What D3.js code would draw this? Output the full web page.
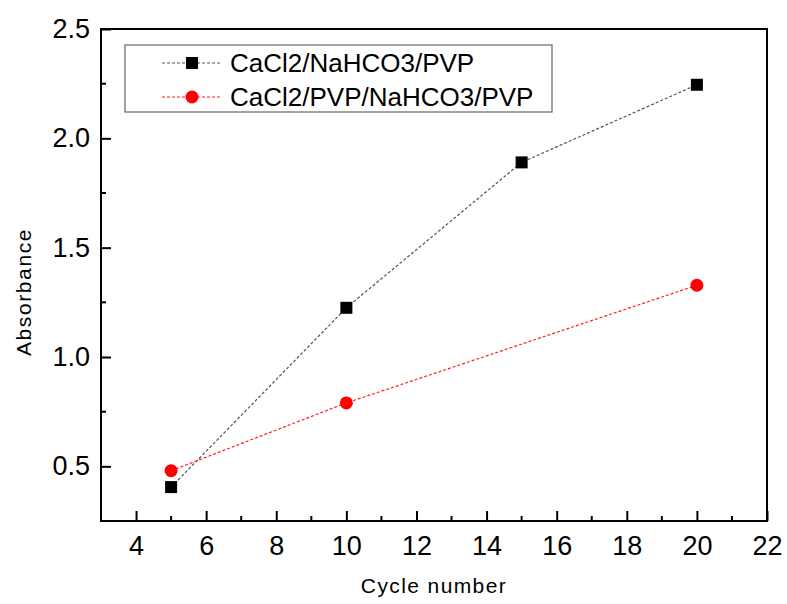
<!DOCTYPE html>
<html>
<head>
<meta charset="utf-8">
<script src="https://cdn.jsdelivr.net/npm/d3@7"></script>
<style>
  body { margin: 0; background: #fff; }
  text { font-family: "Liberation Sans", Arial, sans-serif; fill: #000; }
</style>
</head>
<body>
<div id="chart"></div>
<script>
// data
let cycles1     = [5, 10, 15, 20];
let absorb1     = [0.405, 1.225, 1.89, 2.245];
let cycles2     = [5, 10, 20];
let absorb2     = [0.48, 0.79, 1.328];
let seriesNames = ['CaCl2/NaHCO3/PVP', 'CaCl2/PVP/NaHCO3/PVP'];
let xTicks      = [4, 6, 8, 10, 12, 14, 16, 18, 20, 22];
let yTicks      = [0.5, 1.0, 1.5, 2.0, 2.5];

let canvasWidth  = 787;
let canvasHeight = 604;
let margin = { top: 29, right: 20, bottom: 83, left: 101 };
let width  = canvasWidth - margin.left - margin.right;
let height = canvasHeight - margin.top - margin.bottom;

let x = d3.scaleLinear().domain([3, 22]).range([0, width]);
let y = d3.scaleLinear().domain([0.25, 2.5]).range([height, 0]);

let svg = d3.select('#chart').append('svg')
	.attr('width', canvasWidth)
	.attr('height', canvasHeight)
	.append('g')
		.attr('transform', 'translate(' + margin.left + ',' + margin.top + ')');

// frame
svg.append('rect')
	.attr('width', width).attr('height', height)
	.attr('fill', 'none').attr('stroke', '#000').attr('stroke-width', 2);

// x axis, ticks pointing inward
let xAxis = svg.append('g')
	.attr('transform', 'translate(0,' + height + ')')
	.call(d3.axisBottom(x).tickValues(xTicks).tickSizeInner(-10).tickSizeOuter(0).tickPadding(15));
xAxis.selectAll('.tick text').style('font-size', '27px');
xAxis.select('.domain').remove();
xAxis.selectAll('line').attr('stroke-width', 2);

let xMinor = d3.range(5, 22, 2);
svg.append('g').selectAll('line').data(xMinor).enter().append('line')
	.attr('x1', (d) => x(d)).attr('x2', (d) => x(d))
	.attr('y1', height).attr('y2', height - 5)
	.attr('stroke', '#000').attr('stroke-width', 2);

// y axis
let yAxis = svg.append('g')
	.call(d3.axisLeft(y).tickValues(yTicks).tickFormat(d3.format('.1f')).tickSizeInner(-10).tickSizeOuter(0).tickPadding(11));
yAxis.selectAll('.tick text').style('font-size', '27px');
yAxis.select('.domain').remove();
yAxis.selectAll('line').attr('stroke-width', 2);

let yMinor = [0.75, 1.25, 1.75, 2.25];
svg.append('g').selectAll('line').data(yMinor).enter().append('line')
	.attr('x1', 0).attr('x2', 5)
	.attr('y1', (d) => y(d)).attr('y2', (d) => y(d))
	.attr('stroke', '#000').attr('stroke-width', 2);

// axis titles
svg.append('text')
	.attr('x', width / 2).attr('y', height + 72)
	.attr('text-anchor', 'middle').style('font-size', '21px').style('letter-spacing', '1.4px')
	.text('Cycle number');
svg.append('text')
	.attr('transform', 'translate(' + (-70) + ',' + (height / 2 + 17) + ') rotate(-90)')
	.attr('text-anchor', 'middle').style('font-size', '21px').style('letter-spacing', '1.6px')
	.text('Absorbance');

let line = d3.line().x((d) => x(d[0])).y((d) => y(d[1]));
let pts1 = cycles1.map((c, i) => [c, absorb1[i]]);
let pts2 = cycles2.map((c, i) => [c, absorb2[i]]);

svg.append('path').datum(pts1).attr('d', line)
	.attr('fill', 'none').attr('stroke', '#555').attr('stroke-width', 1.2).attr('stroke-dasharray', '3,2');
svg.append('path').datum(pts2).attr('d', line)
	.attr('fill', 'none').attr('stroke', '#ff2020').attr('stroke-width', 1.2).attr('stroke-dasharray', '3,2');

svg.selectAll('.sq').data(pts1).enter().append('rect')
	.attr('class', 'sq')
	.attr('x', (d) => x(d[0]) - 6).attr('y', (d) => y(d[1]) - 6)
	.attr('width', 12).attr('height', 12).attr('fill', '#000');
svg.selectAll('.dot').data(pts2).enter().append('circle')
	.attr('class', 'dot')
	.attr('cx', (d) => x(d[0])).attr('cy', (d) => y(d[1]))
	.attr('r', 6.5).attr('fill', '#ff0000');

// legend
let legend = svg.append('g').attr('transform', 'translate(24,16)');
legend.append('rect')
	.attr('width', 427).attr('height', 67)
	.attr('fill', '#fff').attr('stroke', '#666').attr('stroke-width', 1.2);
let rowY = [18, 52];
let colors = ['#555', '#ff2020'];
seriesNames.forEach((name, i) => {
	let g = legend.append('g').attr('transform', 'translate(0,' + rowY[i] + ')');
	g.append('line').attr('x1', 37).attr('x2', 95)
		.attr('stroke', colors[i]).attr('stroke-width', 1.2).attr('stroke-dasharray', '3,2');
	if (i === 0) {
		g.append('rect').attr('x', 61).attr('y', -6).attr('width', 12).attr('height', 12).attr('fill', '#000');
	} else {
		g.append('circle').attr('cx', 67).attr('cy', 0).attr('r', 6.5).attr('fill', '#ff0000');
	}
	g.append('text').attr('x', 105).attr('y', 9).style('font-size', '26px').text(name);
});
</script>
</body>
</html>
